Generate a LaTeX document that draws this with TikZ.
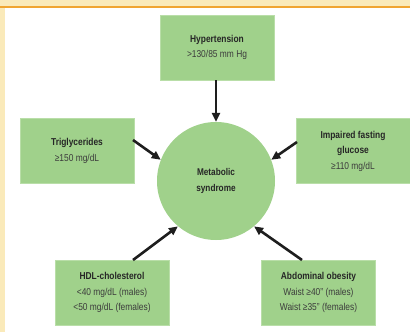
\documentclass[tikz,border=0pt]{standalone}
\usepackage{fontspec}
\setmainfont{Liberation Sans}[FakeStretch=0.84]
\usetikzlibrary{arrows.meta}
\definecolor{boxgreen}{RGB}{160,209,139}
\definecolor{boxedge}{RGB}{185,222,168}
\definecolor{cream}{RGB}{250,234,186}
\definecolor{orangeline}{RGB}{240,165,50}
\definecolor{valtext}{RGB}{60,60,60}
\definecolor{arrowcol}{RGB}{30,30,30}
\tikzset{
  crit/.style={draw=boxedge, line width=0.8pt, fill=boxgreen, minimum width=114pt, minimum height=65pt,
    align=center, font=\fontsize{10}{15.5}\selectfont, text=valtext, inner sep=0pt},
  hub/.style={circle, fill=boxgreen, minimum size=118pt, inner sep=0pt, align=center,
    font=\fontsize{9.8}{16}\selectfont\bfseries, text=black!85},
  feed/.style={draw=arrowcol, line width=2.6pt, -{Triangle[length=9pt,width=8pt]}},
}
\newcommand{\ttl}[1]{{\bfseries\color{black!85}#1}}
\begin{document}
\begin{tikzpicture}[x=1pt,y=-1pt]
\useasboundingbox (0,0) rectangle (410,332);
\fill[cream] (0,0) rectangle (410,332);
\fill[white] (5,7) rectangle (410,332);
\fill[orangeline] (0,5.5) rectangle (410,7.5);
\node[hub] (ms) at (216,181) {Metabolic\\syndrome};
\node[crit] (hyp) at (217,47.5) {\ttl{Hypertension}\\>130/85 mm Hg};
\node[crit] (tri) at (77,151) {\ttl{Triglycerides}\\≥150 mg/dL};
\node[crit] (glu) at (353,151) {\ttl{Impaired fasting}\\\ttl{glucose}\\≥110 mg/dL};
\node[crit] (hdl) at (112,292.5) {\ttl{HDL-cholesterol}\\<40 mg/dL (males)\\<50 mg/dL (females)};
\node[crit] (abd) at (318.5,292.5) {\ttl{Abdominal obesity}\\Waist ≥40" (males)\\Waist ≥35" (females)};
\coordinate (hypA) at (216,80);
\coordinate (triA) at (133,140);
\coordinate (gluA) at (297,142);
\coordinate (hdlA) at (133,260);
\coordinate (abdA) at (302,260);
\draw[feed] (hypA) -- (ms.north);
\draw[feed] (triA) -- (ms.159);
\draw[feed] (gluA) -- (ms.21);
\draw[feed] (hdlA) -- (ms.230);
\draw[feed] (abdA) -- (ms.310);
\end{tikzpicture}
\end{document}
